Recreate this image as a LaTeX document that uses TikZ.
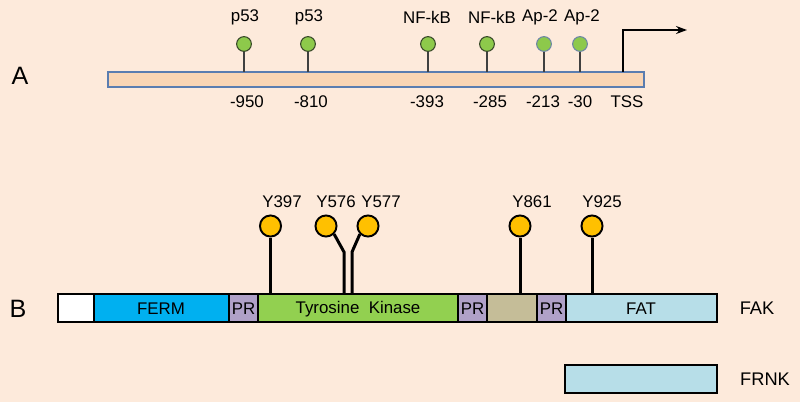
\documentclass[tikz,border=0pt]{standalone}
\usepackage{fontspec}
\setmainfont{Liberation Sans}
\usetikzlibrary{arrows.meta}

\definecolor{bgpeach}{HTML}{FDEADB}
\definecolor{barpeach}{HTML}{F9D5B4}
\definecolor{barblue}{HTML}{5A7DB0}
\definecolor{sitegreen}{HTML}{8DC94B}
\definecolor{sitedark}{HTML}{3A4A2A}
\definecolor{siterim}{HTML}{6E87A6}
\definecolor{tyrorange}{HTML}{FFC000}
\definecolor{fermblue}{HTML}{00B0F0}
\definecolor{prpurple}{HTML}{B0A1C8}
\definecolor{kingreen}{HTML}{92D050}
\definecolor{linktan}{HTML}{C5BD98}
\definecolor{fatblue}{HTML}{B7DEE8}

\tikzset{
  site/.style={circle, fill=sitegreen, line width=0.6pt, minimum size=8.4pt, inner sep=0pt},
  stem/.style={draw=black!75, line width=0.8pt},
  tyr/.style={circle, draw=black, fill=tyrorange, line width=1.1pt, minimum size=12pt, inner sep=0pt},
  tstem/.style={line width=1.7pt, line join=miter},
  dom/.style={draw=black, line width=1.6pt},
  big/.style={font=\fontsize{14.3}{16}\selectfont},
  side/.style={font=\fontsize{10.4}{12}\selectfont}
}

\begin{document}
\begin{tikzpicture}[x=0.02cm, y=-0.02cm, font=\fontsize{9.6}{11}\selectfont]
\fill[bgpeach] (0,0) rectangle (800,402);
\useasboundingbox (0,0) rectangle (800,402);

% A: promoter
\node[big] (lblA) at (20,76) {A};
\draw[draw=barblue, fill=barpeach, line width=0.8pt] (108,72) rectangle (644,87);
\foreach \x/\tx/\tf/\px/\pos/\rim [count=\i] in {
    244/245/p53/247/-950/sitedark,
    308/309/p53/311/-810/sitedark,
    428/427/NF-kB/427/-393/sitedark,
    487/492/NF-kB/490/-285/sitedark,
    544/540/Ap-2/543/-213/siterim,
    580/582/Ap-2/580/-30/siterim}{
  \node[site, draw=\rim] (s\i) at (\x,44) {};
  \coordinate (b\i) at (\x,72);
  \draw[stem] (s\i.south) -- (b\i);
  \node (tf\i) at (\tx,17) {\tf};
  \node (pos\i) at (\px,102) {\pos};
}
\node (tss) at (627,102) {TSS};
\coordinate (tssbase) at (623,72);
\coordinate (tsshead) at (687,30);
\draw[line width=0.8pt, -{Stealth[length=2.2mm, width=1.6mm]}] (tssbase) |- (tsshead);

% B: FAK domains
\node[big] (lblB) at (18,309) {B};
\draw[dom, fill=white] (58,294) rectangle (94,322);
\draw[dom, fill=fermblue] (94,294) rectangle (229,322);
\draw[dom, fill=prpurple] (229,294) rectangle (258,322);
\draw[dom, fill=kingreen] (258,294) rectangle (458,322);
\draw[dom, fill=prpurple] (458,294) rectangle (487,322);
\draw[dom, fill=linktan] (487,294) rectangle (537,322);
\draw[dom, fill=prpurple] (537,294) rectangle (566,322);
\draw[dom, fill=fatblue] (566,294) rectangle (717,322);
\node (ferm) at (161,309) {FERM};
\node[inner sep=0pt] (pr1) at (243.5,309) {PR};
\node (kin) at (358,309) {Tyrosine~~Kinase};
\node[inner sep=0pt] (pr2) at (472.5,309) {PR};
\node[inner sep=0pt] (pr3) at (551.5,309) {PR};
\node (fat) at (641,309) {FAT};
\node[side] (fak) at (757,308) {FAK};

% phospho-tyrosines
\node[tyr] (y397) at (270.5,226) {};
\node[tyr] (y576) at (326,226) {};
\node[tyr] (y577) at (368,226) {};
\node[tyr] (y861) at (520,226) {};
\node[tyr] (y925) at (592,226) {};
\node (l397) at (282,202) {Y397};
\node (l576) at (336,202) {Y576};
\node (l577) at (381,202) {Y577};
\node (l861) at (532,202) {Y861};
\node (l925) at (602,202) {Y925};
\draw[tstem] (y397.south) -- (y397.south |- 0,294);
\draw[tstem] (y576.south east) -- (344,252) -- (344,294);
\draw[tstem] (y577.south west) -- (352,252) -- (352,294);
\draw[tstem] (y861.south) -- (y861.south |- 0,294);
\draw[tstem] (y925.south) -- (y925.south |- 0,294);

% FRNK
\draw[dom, fill=fatblue] (565,365) rectangle (717,393);
\node[side] (frnk) at (765,379) {FRNK};
\end{tikzpicture}
\end{document}
